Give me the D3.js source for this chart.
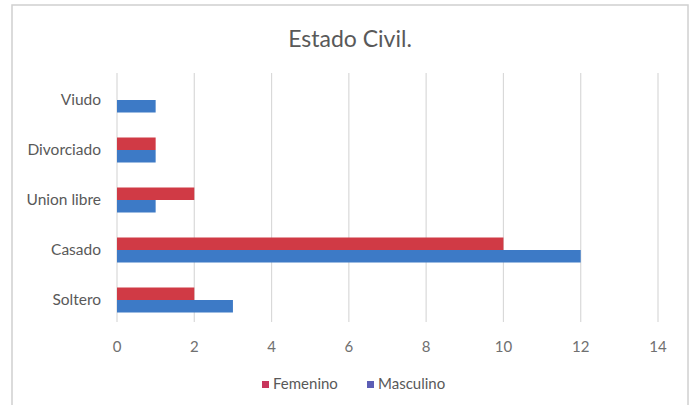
<!DOCTYPE html>
<html>
<head>
<meta charset="utf-8">
<script src="https://cdn.jsdelivr.net/npm/d3@7"></script>
<style>
  body { margin: 0; background: #fff; }
  text { font-family: Lato, "Open Sans", sans-serif; fill: #595959; }
</style>
</head>
<body>
<svg id="chart" width="692" height="405"></svg>
<script>
// categories from top to bottom, as drawn
var categories = ["Viudo", "Divorciado", "Union libre", "Casado", "Soltero"];
var series = ["Femenino", "Masculino"];
var femenino = [0, 1, 2, 10, 2];
var masculino = [1, 1, 1, 12, 3];
var xTicks = [0, 2, 4, 6, 8, 10, 12, 14];

var barColors = ["#d03a45", "#3d7ac6"];
var legendColors = ["#c8365c", "#5c5eb5"];

var svg = d3.select("#chart");

// chart frame
svg.append("rect")
    .attr("x", 12).attr("y", 5)
    .attr("width", 676).attr("height", 410)
    .attr("fill", "#fff")
    .attr("stroke", "#d0d0d0")
    .attr("stroke-width", 1.5);

// title
svg.append("text")
    .attr("x", 350).attr("y", 47)
    .attr("text-anchor", "middle")
    .style("font-size", "23px")
    .text("Estado Civil.");

var xScale = d3.scaleLinear().domain([0, 14]).range([117, 658]);
var yScale = d3.scaleBand().domain(categories).range([75, 325])
    .paddingInner(0.5).paddingOuter(0.25);
var subScale = d3.scaleBand().domain(series).range([0, yScale.bandwidth()]);

// vertical gridlines
svg.append("g").selectAll("line")
    .data(xTicks)
    .enter().append("line")
    .attr("x1", function (d) { return xScale(d); })
    .attr("x2", function (d) { return xScale(d); })
    .attr("y1", 73)
    .attr("y2", 322)
    .attr("stroke", "#d9d9d9")
    .attr("stroke-width", 1.2);

// x tick labels
svg.append("g").selectAll("text")
    .data(xTicks)
    .enter().append("text")
    .attr("x", function (d) { return xScale(d); })
    .attr("y", 347)
    .attr("dy", "0.35em")
    .attr("text-anchor", "middle")
    .style("font-size", "15px")
    .style("fill", "#707070")
    .text(function (d) { return d; });

// category labels
svg.append("g").selectAll("text")
    .data(categories)
    .enter().append("text")
    .attr("x", 101)
    .attr("y", function (d) { return yScale(d) + yScale.bandwidth() / 2; })
    .attr("dy", "0.35em")
    .attr("text-anchor", "end")
    .style("font-size", "15.5px")
    .text(function (d) { return d; });

// bars
var values = [femenino, masculino];
series.forEach(function (s, si) {
    svg.append("g").selectAll("rect")
        .data(categories)
        .enter().append("rect")
        .attr("x", xScale(0))
        .attr("y", function (d) { return yScale(d) + subScale(s); })
        .attr("width", function (d, i) { return xScale(values[si][i]) - xScale(0); })
        .attr("height", subScale.bandwidth())
        .attr("fill", barColors[si]);
});

// legend
var legendX = [262, 367];
var legend = svg.append("g").selectAll("g")
    .data(series)
    .enter().append("g")
    .attr("transform", function (d, i) { return "translate(" + legendX[i] + ",384)"; });

legend.append("rect")
    .attr("x", 0).attr("y", -3)
    .attr("width", 7).attr("height", 7)
    .attr("fill", function (d, i) { return legendColors[i]; });

legend.append("text")
    .attr("x", 11)
    .attr("y", 0)
    .attr("dy", "0.35em")
    .style("font-size", "15px")
    .text(function (d) { return d; });
</script>
</body>
</html>
